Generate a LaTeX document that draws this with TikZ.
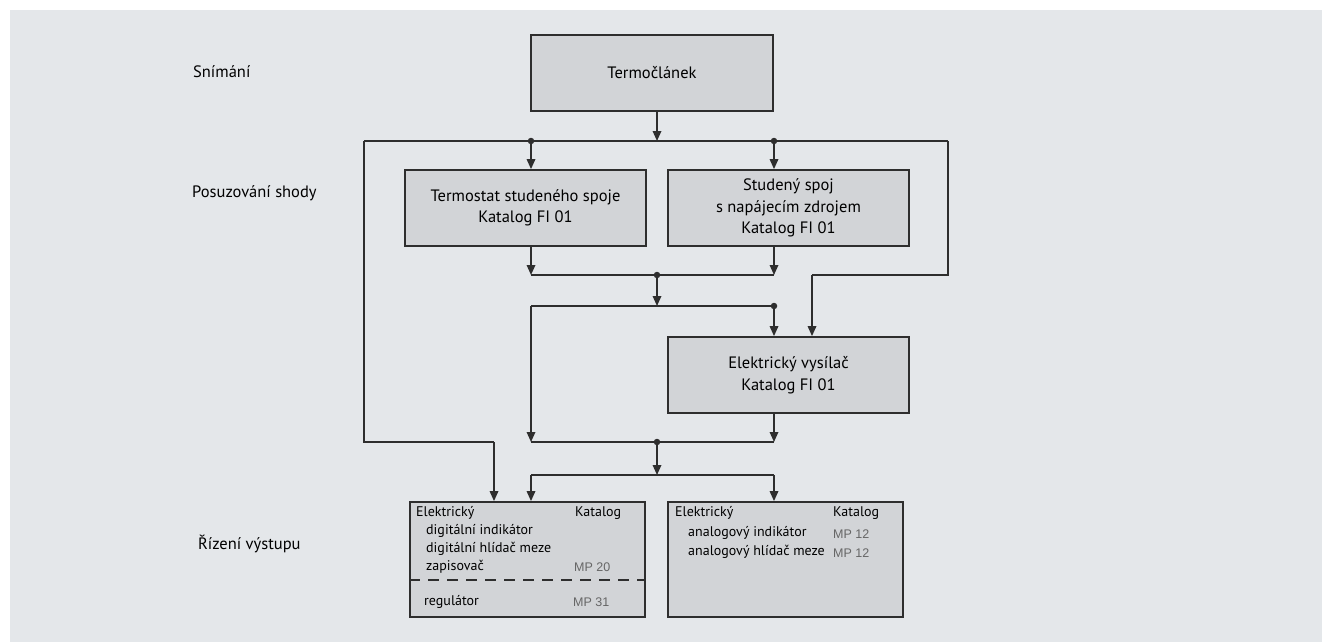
\documentclass[tikz,border=0pt]{standalone}
\usepackage{fontspec}
\setmainfont{PT Sans}
\newfontfamily\mpfont{Liberation Sans}
\usetikzlibrary{arrows.meta}
\definecolor{panelbg}{HTML}{E4E7EA}
\definecolor{boxfill}{HTML}{D2D4D7}
\definecolor{linecol}{HTML}{2E2E2E}
\definecolor{mpgray}{HTML}{666666}
\tikzset{
  box/.style={draw=linecol, line width=1.8pt, fill=boxfill, inner sep=0pt, align=center,
    font=\fontsize{16.5}{21.5}\selectfont, text=black},
  wire/.style={draw=linecol, line width=1.7pt},
  arr/.style={wire, -{Triangle[width=8.5pt,length=10pt]}},
  junc/.style={circle, fill=linecol, inner sep=0pt, minimum size=6.5pt},
  side/.style={font=\fontsize{16.5}{18}\selectfont, anchor=west, inner sep=0pt},
  small/.style={font=\fontsize{14}{15}\selectfont, anchor=west, inner sep=0pt},
  mp/.style={font=\mpfont\fontsize{12.5}{14}\selectfont, text=mpgray, anchor=west, inner sep=0pt},
}
\begin{document}
\begin{tikzpicture}[x=1pt,y=-1pt]
\useasboundingbox (0,0) rectangle (1322,642);
\fill[white] (0,0) rectangle (1322,642);
\fill[panelbg] (10,10) rectangle (1322,642);

% side labels
\node[side] (l1) at (193,72) {Snímání};
\node[side] (l2) at (192,193) {Posuzování shody};
\node[side] (l3) at (198,544) {Řízení výstupu};

% boxes
\node[box, minimum width=242pt, minimum height=76pt] (T) at (652,73) {Termočlánek};
\node[box, minimum width=241pt, minimum height=76pt] (B2) at (525.5,208) {Termostat studeného spoje\\Katalog FI 01};
\node[box, minimum width=241pt, minimum height=76pt] (B3) at (788.5,208) {Studený spoj\\s napájecím zdrojem\\Katalog FI 01};
\node[box, minimum width=241pt, minimum height=76pt] (B4) at (788.5,375) {Elektrický vysílač\\Katalog FI 01};
\node[box, minimum width=235pt, minimum height=115pt] (B5) at (527.5,559.5) {};
\node[box, minimum width=235pt, minimum height=115pt] (B6) at (785.5,559.5) {};

% junctions and corners
\coordinate (busL) at (364,141);
\coordinate (busR) at (948,141);
\coordinate (busT) at (657,141);
\node[junc] (j1) at (531,141) {};
\node[junc] (j2) at (774,141) {};
\coordinate (m1L) at (531,275);
\coordinate (m1R) at (774,275);
\node[junc] (j3) at (657,275) {};
\coordinate (m2L) at (531,306);
\node[junc] (j4) at (774,306) {};
\coordinate (rc1) at (948,275);
\coordinate (rc2) at (812,275);
\coordinate (m3L) at (531,442);
\coordinate (m3R) at (774,442);
\node[junc] (j5) at (657,442) {};
\coordinate (m4L) at (531,475);
\coordinate (m4R) at (774,475);
\coordinate (m4C) at (657,475);
\coordinate (lc1) at (364,442);
\coordinate (lc2) at (494,442);

% top bus
\draw[wire] (busL) -- (busR);
\draw[arr] (T.south -| busT) -- (busT);
\draw[arr] (j1.center) -- (j1.center |- B2.north);
\draw[arr] (j2.center) -- (j2.center |- B3.north);

% second level
\draw[arr] (m1L |- B2.south) -- (m1L);
\draw[arr] (m1R |- B3.south) -- (m1R);
\draw[wire] (m1L) -- (m1R);
\draw[arr] (j3.center) -- (m2L -| j3.center);
\draw[wire] (m2L) -- (j4.center);
\draw[arr] (j4.center) -- (j4.center |- B4.north);
\draw[arr] (m2L) -- (m3L);

% right bypass
\draw[wire] (busR) -- (rc1) -- (rc2);
\draw[arr] (rc2) -- (rc2 |- B4.north);

% third level
\draw[arr] (m3R |- B4.south) -- (m3R);
\draw[wire] (m3L) -- (m3R);
\draw[arr] (j5.center) -- (m4C);
\draw[wire] (m4L) -- (m4R);
\draw[arr] (m4L) -- (m4L |- B5.north);
\draw[arr] (m4R) -- (m4R |- B6.north);

% left bypass
\draw[wire] (busL) -- (lc1) -- (lc2);
\draw[arr] (lc2) -- (lc2 |- B5.north);

% box 5 contents
\node[small] (t51) at (416,513) {Elektrický};
\node[small] (t52) at (575,513) {Katalog};
\node[small] (t53) at (426,531) {digitální indikátor};
\node[small] (t54) at (426,549) {digitální hlídač meze};
\node[small] (t55) at (426,567) {zapisovač};
\node[mp] (t56) at (574,567) {MP 20};
\draw[draw=linecol, line width=1.6pt, dash pattern=on 11pt off 8pt] (B5.west |- 0,580) -- (B5.east |- 0,580);
\node[small] (t57) at (424,602) {regulátor};
\node[mp] (t58) at (573,602) {MP 31};

% box 6 contents
\node[small] (t61) at (675,513) {Elektrický};
\node[small] (t62) at (833,513) {Katalog};
\node[small] (t63) at (688,533) {analogový indikátor};
\node[mp] (t64) at (833,534) {MP 12};
\node[small] (t65) at (688,552) {analogový hlídač meze};
\node[mp] (t66) at (833,553) {MP 12};
\end{tikzpicture}
\end{document}
